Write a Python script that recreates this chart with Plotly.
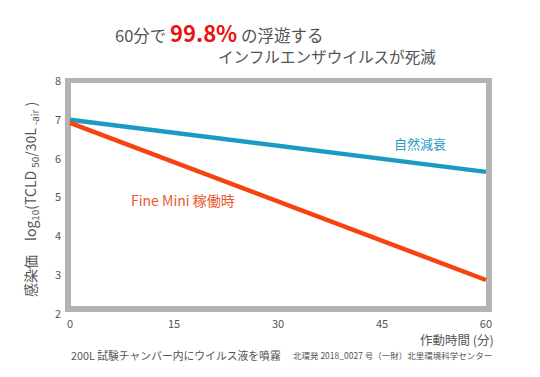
import plotly.graph_objects as go

time_min = [0, 60]
natural_decay = [7.0, 5.66]
fine_mini = [6.92, 2.875]
x_ticks = [0, 15, 30, 45, 60]
y_ticks = [2, 3, 4, 5, 6, 7, 8]

W, H = 540, 377
L, R, T, B = 62, 44, 78, 61
PW, PH = W - L - R, H - T - B
# pixel mapping helpers (for decoration / annotation placement)
x0px, xscale = 70.0, 6.933
y8px, yscale = 81.0, 38.83
xr = [(L - x0px) / xscale, (W - R - x0px) / xscale]
yr = [8 - (H - B - y8px) / yscale, 8 - (T - y8px) / yscale]

def px2x(p):
    return (p - x0px) / xscale

def px2y(p):
    return 8 - (p - y8px) / yscale

def ppx(p):
    return (p - L) / PW

def ppy(p):
    return 1 - (p - T) / PH

FONT = "Noto Sans CJK JP"
GRAY = "#555555"
BLUE = "#1b9bc3"
ORANGE = "#f5440f"

fig = go.Figure()
fig.add_trace(go.Scatter(x=time_min, y=natural_decay, mode="lines",
                         line=dict(color=BLUE, width=4.5), name="自然減衰"))
fig.add_trace(go.Scatter(x=time_min, y=fine_mini, mode="lines",
                         line=dict(color=ORANGE, width=4.5), name="Fine Mini 稼働時"))

# gray frame
fig.add_shape(type="rect", xref="x", yref="y",
              x0=px2x(68), x1=px2x(489), y0=px2y(309), y1=px2y(80),
              line=dict(color="#b3b3b3", width=6), layer="below")

ann = []
def pa(px_x, px_y, text, size, color=GRAY, xanchor="center", **kw):
    ann.append(dict(xref="paper", yref="paper", x=ppx(px_x), y=ppy(px_y), text=text,
                    showarrow=False, xanchor=xanchor, yanchor="middle", borderpad=0,
                    font=dict(family=FONT, size=size, color=color), **kw))

pa(219, 32, "60分で <b><span style='color:#ee1111;font-size:22px'>99.8%</span></b> の浮遊する", 16.5)
pa(327, 56, "インフルエンザウイルスが死滅", 15.6)
pa(420, 143, "自然減衰", 13, color="#2a9cc4")
pa(183, 200, "Fine Mini 稼働時", 14, color="#e85a30")
pa(495, 339, "作動時間 (分)", 12.5, xanchor="right")
pa(70, 355, "200L 試験チャンバー内にウイルス液を噴霧", 10.8, xanchor="left")
pa(493, 355, "北環発 2018_0027 号（一財）北里環境科学センター", 8.5, xanchor="right")
pa(31, 200, "感染価　log<sub>10</sub>(TCLD <sub>50</sub>/30L <sub>-air</sub> )", 14, textangle=-90)

fig.update_layout(
    width=W, height=H,
    margin=dict(l=L, r=R, t=T, b=B),
    paper_bgcolor="white", plot_bgcolor="white",
    showlegend=False,
    annotations=ann,
    xaxis=dict(range=xr, tickvals=x_ticks, showgrid=False, zeroline=False,
               showline=False, ticks="", tickfont=dict(family=FONT, size=11, color=GRAY)),
    yaxis=dict(range=yr, tickvals=y_ticks, showgrid=False, zeroline=False,
               showline=False, ticks="", tickfont=dict(family=FONT, size=11, color=GRAY)),
)

fig.write_html("out.html", config={"displayModeBar": False},
               post_script="document.body.style.margin='0';document.body.style.padding='0';")
